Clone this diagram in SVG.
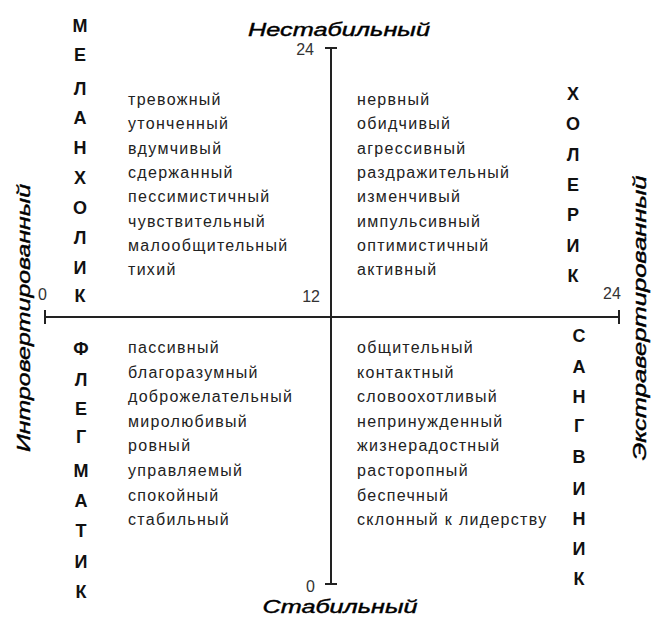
<svg xmlns="http://www.w3.org/2000/svg" width="652" height="619" viewBox="0 0 652 619">
<style>
.t{font-family:"Liberation Sans",Arial,sans-serif;font-size:16px;letter-spacing:1.3px;fill:#222}
.big{font-family:"Liberation Sans",Arial,sans-serif;font-size:18px;font-weight:bold;fill:#111;text-anchor:middle}
.lab{font-family:"Liberation Sans",Arial,sans-serif;font-size:18px;font-style:italic;fill:#000;stroke:#000;stroke-width:0.4}
.num{font-family:"Liberation Sans",Arial,sans-serif;font-size:16px;fill:#333}
.ax{stroke:#222;stroke-width:2;fill:none}
</style>
<rect width="652" height="619" fill="#fff"/>
<g id="axes">
<line class="ax" x1="331" y1="48" x2="331" y2="584"/>
<line class="ax" x1="325" y1="48" x2="337" y2="48"/>
<line class="ax" x1="325" y1="584" x2="337" y2="584"/>
<line class="ax" x1="45" y1="317" x2="619" y2="317"/>
<line class="ax" x1="45" y1="310" x2="45" y2="324"/>
<line class="ax" x1="619" y1="310" x2="619" y2="324"/>
</g>
<g id="axis-labels">
<text class="lab" x="339" y="36" text-anchor="middle" textLength="182" lengthAdjust="spacingAndGlyphs">Нестабильный</text>
<text class="lab" x="340" y="613" text-anchor="middle" textLength="155" lengthAdjust="spacingAndGlyphs">Стабильный</text>
<text class="lab" transform="translate(30 318) rotate(-90)" text-anchor="middle" textLength="268" lengthAdjust="spacingAndGlyphs">Интровертированный</text>
<text class="lab" transform="translate(646 318) rotate(-90)" text-anchor="middle" textLength="285" lengthAdjust="spacingAndGlyphs">Экстравертированный</text>
</g>
<g id="scale">
<text class="num" x="314" y="55" text-anchor="end">24</text>
<text class="num" x="320" y="302" text-anchor="end">12</text>
<text class="num" x="38" y="300">0</text>
<text class="num" x="603" y="299">24</text>
<text class="num" x="315" y="592" text-anchor="end">0</text>
</g>
<g id="melancholic">
<text class="big" x="80" y="32">М</text>
<text class="big" x="80" y="61">Е</text>
<text class="big" x="80" y="95">Л</text>
<text class="big" x="80" y="124">А</text>
<text class="big" x="80" y="154">Н</text>
<text class="big" x="80" y="184">Х</text>
<text class="big" x="80" y="214">О</text>
<text class="big" x="80" y="244">Л</text>
<text class="big" x="80" y="274">И</text>
<text class="big" x="80" y="302">К</text>
<text class="t" x="128" y="105">тревожный</text>
<text class="t" x="128" y="129.3">утонченный</text>
<text class="t" x="128" y="153.6">вдумчивый</text>
<text class="t" x="128" y="177.9">сдержанный</text>
<text class="t" x="128" y="202.2">пессимистичный</text>
<text class="t" x="128" y="226.5">чувствительный</text>
<text class="t" x="128" y="250.8">малообщительный</text>
<text class="t" x="128" y="275.1">тихий</text>
</g>
<g id="choleric">
<text class="big" x="573" y="100">Х</text>
<text class="big" x="573" y="130">О</text>
<text class="big" x="573" y="161">Л</text>
<text class="big" x="573" y="191">Е</text>
<text class="big" x="573" y="221">Р</text>
<text class="big" x="573" y="252">И</text>
<text class="big" x="573" y="282">К</text>
<text class="t" x="357" y="105">нервный</text>
<text class="t" x="357" y="129.3">обидчивый</text>
<text class="t" x="357" y="153.6">агрессивный</text>
<text class="t" x="357" y="177.9">раздражительный</text>
<text class="t" x="357" y="202.2">изменчивый</text>
<text class="t" x="357" y="226.5">импульсивный</text>
<text class="t" x="357" y="250.8">оптимистичный</text>
<text class="t" x="357" y="275.1">активный</text>
</g>
<g id="phlegmatic">
<text class="big" x="81" y="355">Ф</text>
<text class="big" x="81" y="386">Л</text>
<text class="big" x="81" y="415">Е</text>
<text class="big" x="81" y="443">Г</text>
<text class="big" x="81" y="477">М</text>
<text class="big" x="81" y="507">А</text>
<text class="big" x="81" y="537">Т</text>
<text class="big" x="81" y="568">И</text>
<text class="big" x="81" y="598">К</text>
<text class="t" x="128" y="353">пассивный</text>
<text class="t" x="128" y="377.6">благоразумный</text>
<text class="t" x="128" y="402.2">доброжелательный</text>
<text class="t" x="128" y="426.8">миролюбивый</text>
<text class="t" x="128" y="451.4">ровный</text>
<text class="t" x="128" y="476">управляемый</text>
<text class="t" x="128" y="500.6">спокойный</text>
<text class="t" x="128" y="525.2">стабильный</text>
</g>
<g id="sanguine">
<text class="big" x="579" y="342">С</text>
<text class="big" x="579" y="373">А</text>
<text class="big" x="579" y="403">Н</text>
<text class="big" x="579" y="432">Г</text>
<text class="big" x="579" y="463">В</text>
<text class="big" x="579" y="495">И</text>
<text class="big" x="579" y="525">Н</text>
<text class="big" x="579" y="555">И</text>
<text class="big" x="579" y="585">К</text>
<text class="t" x="357" y="353">общительный</text>
<text class="t" x="357" y="377.6">контактный</text>
<text class="t" x="357" y="402.2">словоохотливый</text>
<text class="t" x="357" y="426.8">непринужденный</text>
<text class="t" x="357" y="451.4">жизнерадостный</text>
<text class="t" x="357" y="476">расторопный</text>
<text class="t" x="357" y="500.6">беспечный</text>
<text class="t" x="357" y="525.2">склонный к лидерству</text>
</g>
</svg>
